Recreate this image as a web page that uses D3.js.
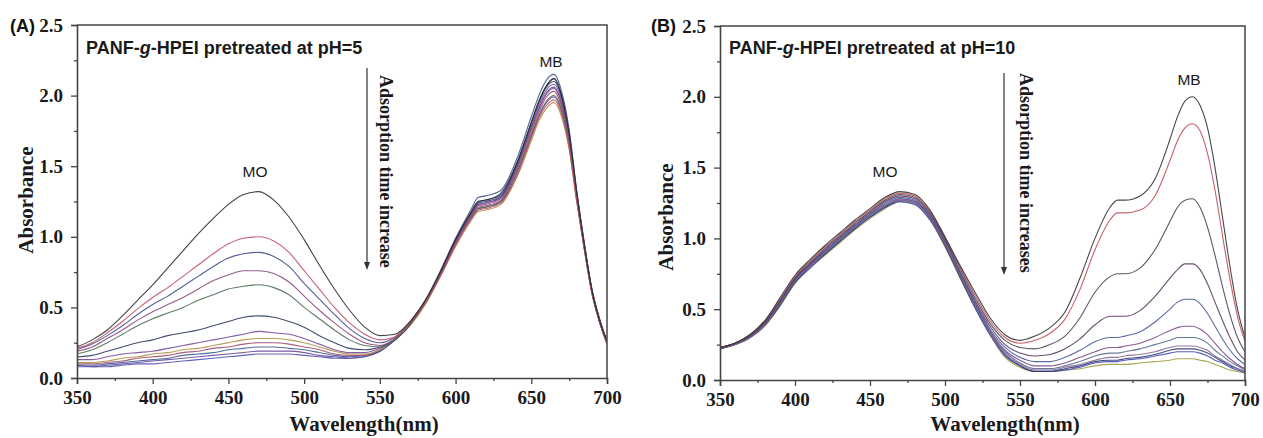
<!DOCTYPE html>
<html><head><meta charset="utf-8">
<script src="https://cdn.jsdelivr.net/npm/d3@7"></script>
<style>
body{margin:0;background:#fff}svg{display:block}
.tick text{font-family:"Liberation Serif","Times New Roman",serif;font-weight:bold;font-size:19px;fill:#1a1a1a}
</style>
</head><body><svg id="c" width="1263" height="438"></svg>
<script>
// ---------- data ----------
const wavelengths = [350,360,370,380,390,400,410,420,430,440,450,460,470,480,490,500,510,520,530,540,550,
  560,570,580,590,600,610,615,620,630,640,650,655,660,665,670,675,680,685,690,695,700];
const xMajor = [350,400,450,500,550,600,650,700];
const xMinor = [375,425,475,525,575,625,675];
const yMajor = [0,0.5,1.0,1.5,2.0,2.5];
const yMinor = [0.25,0.75,1.25,1.75,2.25];

// Panel A (pH=5)
const A1 = [0.22,0.27,0.34,0.44,0.55,0.66,0.78,0.90,1.02,1.13,1.23,1.30,1.32,1.26,1.14,0.98,0.80,0.63,0.48,0.36,0.30,
  0.31,0.40,0.55,0.75,0.98,1.17,1.25,1.26,1.31,1.51,1.81,1.96,2.07,2.12,2.00,1.73,1.31,0.94,0.62,0.41,0.26];
const A2 = [0.21,0.25,0.32,0.40,0.49,0.57,0.64,0.72,0.80,0.88,0.95,0.99,1.00,0.97,0.89,0.76,0.63,0.50,0.39,0.31,0.27,
  0.29,0.39,0.53,0.72,0.94,1.12,1.19,1.20,1.24,1.42,1.70,1.84,1.93,1.97,1.87,1.63,1.25,0.91,0.60,0.40,0.25];
const A3 = [0.20,0.24,0.30,0.37,0.45,0.52,0.58,0.65,0.72,0.79,0.85,0.88,0.89,0.86,0.79,0.67,0.56,0.45,0.35,0.28,0.25,
  0.29,0.40,0.55,0.76,0.99,1.19,1.28,1.29,1.33,1.54,1.85,2.00,2.11,2.15,2.03,1.76,1.33,0.96,0.63,0.42,0.26];
const A4 = [0.19,0.22,0.28,0.34,0.41,0.47,0.52,0.57,0.63,0.69,0.73,0.76,0.76,0.74,0.68,0.58,0.48,0.39,0.31,0.25,0.23,
  0.28,0.39,0.54,0.74,0.96,1.15,1.22,1.23,1.27,1.47,1.76,1.90,2.01,2.05,1.94,1.69,1.29,0.93,0.62,0.41,0.25];
const A5 = [0.17,0.20,0.25,0.31,0.37,0.42,0.46,0.50,0.55,0.59,0.63,0.65,0.66,0.64,0.59,0.50,0.42,0.34,0.27,0.23,0.22,
  0.27,0.38,0.53,0.73,0.95,1.13,1.20,1.21,1.25,1.44,1.72,1.86,1.96,2.00,1.90,1.66,1.27,0.92,0.61,0.40,0.25];
const A6 = [0.15,0.16,0.19,0.22,0.25,0.27,0.30,0.32,0.34,0.37,0.40,0.43,0.44,0.43,0.40,0.36,0.30,0.25,0.21,0.20,0.22,
  0.27,0.38,0.54,0.75,0.97,1.16,1.24,1.25,1.29,1.50,1.80,1.95,2.06,2.10,1.99,1.72,1.31,0.95,0.63,0.42,0.26];
const A7 = [0.13,0.13,0.15,0.17,0.18,0.19,0.21,0.23,0.25,0.27,0.29,0.31,0.33,0.32,0.31,0.28,0.24,0.20,0.18,0.18,0.21,
  0.27,0.38,0.54,0.74,0.97,1.16,1.23,1.24,1.28,1.49,1.78,1.93,2.04,2.08,1.97,1.71,1.30,0.94,0.62,0.41,0.25];
const A8 = [0.11,0.11,0.12,0.14,0.15,0.17,0.18,0.20,0.21,0.23,0.25,0.27,0.28,0.28,0.27,0.25,0.22,0.19,0.17,0.17,0.20,
  0.27,0.37,0.52,0.72,0.93,1.11,1.18,1.19,1.23,1.41,1.68,1.82,1.91,1.95,1.85,1.62,1.25,0.91,0.60,0.40,0.24];
const A9 = [0.10,0.10,0.11,0.12,0.14,0.15,0.16,0.18,0.19,0.21,0.22,0.24,0.25,0.25,0.24,0.22,0.20,0.17,0.16,0.16,0.20,
  0.27,0.38,0.53,0.73,0.96,1.14,1.21,1.22,1.26,1.46,1.74,1.88,1.99,2.03,1.92,1.68,1.28,0.93,0.61,0.40,0.25];
const A10 = [0.09,0.09,0.10,0.11,0.12,0.13,0.14,0.16,0.17,0.18,0.20,0.21,0.22,0.22,0.21,0.20,0.18,0.16,0.15,0.16,0.19,
  0.27,0.38,0.54,0.75,0.98,1.17,1.25,1.26,1.30,1.51,1.81,1.96,2.07,2.12,2.00,1.74,1.32,0.95,0.63,0.42,0.26];
const A11 = [0.09,0.08,0.09,0.10,0.11,0.12,0.13,0.14,0.15,0.16,0.17,0.18,0.19,0.19,0.19,0.18,0.16,0.15,0.14,0.15,0.19,
  0.27,0.38,0.53,0.73,0.95,1.13,1.20,1.21,1.25,1.44,1.71,1.85,1.95,1.99,1.89,1.65,1.27,0.92,0.61,0.40,0.24];
const A12 = [0.08,0.08,0.08,0.09,0.10,0.10,0.11,0.12,0.13,0.14,0.15,0.16,0.17,0.17,0.17,0.16,0.15,0.14,0.14,0.15,0.19,
  0.27,0.38,0.53,0.74,0.97,1.15,1.23,1.24,1.28,1.48,1.77,1.91,2.02,2.06,1.95,1.70,1.30,0.94,0.62,0.41,0.25];

// Panel B (pH=10)
const B1 = [0.23,0.26,0.32,0.42,0.58,0.74,0.85,0.95,1.04,1.13,1.21,1.29,1.33,1.31,1.20,1.01,0.81,0.62,0.44,0.32,0.28,
  0.31,0.37,0.48,0.72,1.00,1.22,1.27,1.27,1.30,1.42,1.70,1.86,1.97,2.00,1.94,1.78,1.50,1.15,0.80,0.50,0.30];
const B2 = [0.23,0.26,0.32,0.42,0.57,0.73,0.84,0.94,1.03,1.12,1.20,1.28,1.32,1.30,1.19,1.01,0.80,0.60,0.42,0.30,0.26,
  0.28,0.33,0.43,0.64,0.92,1.13,1.18,1.18,1.20,1.30,1.55,1.69,1.78,1.81,1.76,1.60,1.34,1.02,0.71,0.45,0.27];
const B3 = [0.23,0.26,0.32,0.41,0.56,0.72,0.83,0.93,1.02,1.11,1.19,1.27,1.31,1.29,1.18,1.00,0.79,0.58,0.40,0.28,0.23,
  0.22,0.25,0.31,0.44,0.62,0.73,0.75,0.75,0.79,0.92,1.12,1.22,1.27,1.28,1.22,1.08,0.88,0.66,0.46,0.30,0.20];
const B4 = [0.23,0.26,0.31,0.41,0.56,0.72,0.82,0.92,1.01,1.10,1.18,1.26,1.30,1.28,1.17,0.99,0.77,0.56,0.38,0.25,0.19,
  0.17,0.18,0.22,0.29,0.39,0.45,0.45,0.45,0.49,0.59,0.72,0.78,0.82,0.82,0.78,0.68,0.55,0.42,0.30,0.20,0.14];
const B5 = [0.23,0.26,0.31,0.40,0.55,0.71,0.82,0.91,1.00,1.09,1.17,1.25,1.29,1.27,1.16,0.98,0.76,0.55,0.36,0.23,0.16,
  0.13,0.13,0.16,0.21,0.27,0.30,0.30,0.31,0.34,0.41,0.50,0.55,0.57,0.57,0.54,0.47,0.38,0.29,0.21,0.15,0.11];
const B6 = [0.22,0.26,0.31,0.40,0.55,0.71,0.81,0.91,1.00,1.09,1.17,1.24,1.28,1.26,1.15,0.97,0.75,0.54,0.35,0.21,0.14,
  0.10,0.10,0.12,0.16,0.20,0.23,0.23,0.24,0.26,0.30,0.35,0.37,0.38,0.38,0.36,0.32,0.26,0.20,0.15,0.11,0.08];
const B7 = [0.22,0.25,0.30,0.40,0.54,0.70,0.81,0.90,0.99,1.08,1.16,1.23,1.28,1.26,1.15,0.96,0.74,0.53,0.34,0.20,0.12,
  0.08,0.08,0.10,0.13,0.17,0.19,0.19,0.20,0.22,0.25,0.28,0.30,0.30,0.30,0.29,0.26,0.21,0.17,0.13,0.10,0.07];
const B8 = [0.22,0.25,0.30,0.39,0.54,0.70,0.80,0.90,0.99,1.08,1.16,1.23,1.27,1.25,1.14,0.96,0.74,0.52,0.33,0.19,0.11,
  0.07,0.07,0.09,0.11,0.14,0.16,0.16,0.17,0.18,0.20,0.23,0.24,0.24,0.24,0.23,0.21,0.17,0.14,0.11,0.08,0.06];
const B9 = [0.22,0.25,0.30,0.39,0.53,0.69,0.80,0.89,0.98,1.07,1.15,1.22,1.27,1.25,1.14,0.95,0.73,0.52,0.33,0.18,0.10,
  0.06,0.06,0.08,0.10,0.13,0.14,0.14,0.15,0.16,0.18,0.21,0.22,0.22,0.22,0.21,0.19,0.16,0.13,0.10,0.08,0.06];
const B10 = [0.22,0.25,0.30,0.39,0.53,0.69,0.79,0.89,0.98,1.07,1.15,1.22,1.26,1.24,1.13,0.95,0.73,0.51,0.32,0.17,0.10,
  0.06,0.06,0.07,0.09,0.12,0.13,0.13,0.14,0.15,0.17,0.19,0.20,0.20,0.20,0.19,0.17,0.14,0.12,0.09,0.07,0.05];
const B11 = [0.22,0.25,0.30,0.38,0.52,0.68,0.79,0.88,0.97,1.06,1.14,1.21,1.26,1.24,1.13,0.94,0.72,0.51,0.32,0.16,0.09,
  0.06,0.06,0.07,0.08,0.10,0.11,0.11,0.11,0.12,0.13,0.14,0.15,0.15,0.15,0.14,0.13,0.11,0.09,0.07,0.06,0.05];

const seriesA = [A1,A2,A3,A4,A5,A6,A7,A8,A9,A10,A11,A12];
const seriesB = [B1,B2,B3,B4,B5,B6,B7,B8,B9,B10,B11];
const colorsA = ['#2e2e2e','#c0506a','#43508a','#8a4a80','#4d6e52','#2c3a62','#7a4a9a','#b39042','#a04a70','#3c5c92','#6a4aa0','#5252b0'];
const colorsB = ['#333333','#c05058','#4a4458','#5a3a60','#4a5aa0','#7a4a8a','#5a6a90','#8a6a9a','#2a3a70','#4a4ab8','#a0a040'];

// ---------- drawing ----------
const svg = d3.select('#c');
svg.append('rect').attr('width',1263).attr('height',438).attr('fill','#fff');
const serif = '"Liberation Serif","Times New Roman",serif';
const sans = '"Liberation Sans",Arial,sans-serif';

function panel(o){
  const x = d3.scaleLinear().domain([350,700]).range([o.x0,o.x1]);
  const y = d3.scaleLinear().domain([0,2.5]).range([o.y0,o.y1]);
  const g = svg.append('g');
  const clipId = 'clip'+o.id;
  svg.append('clipPath').attr('id',clipId).append('rect')
    .attr('x',o.x0).attr('y',o.y1).attr('width',o.x1-o.x0).attr('height',o.y0-o.y1);

  const line = d3.line().x((d,i)=>x(wavelengths[i])).y(d=>y(d)).curve(d3.curveMonotoneX);
  const lg = g.append('g').attr('clip-path',`url(#${clipId})`);
  o.series.slice().reverse().forEach((s,k)=>{
    const i = o.series.length-1-k;
    lg.append('path').attr('d',line(s)).attr('fill','none')
      .attr('stroke',o.colors[i]).attr('stroke-width',1.1).attr('stroke-opacity',0.9);
  });

  // frame top/right
  g.append('path').attr('d',`M${o.x0},${o.y1}H${o.x1}V${o.y0}`).attr('fill','none')
    .attr('stroke','#444').attr('stroke-width',1.5);

  g.append('g').attr('transform',`translate(0,${o.y0})`)
    .call(d3.axisBottom(x).tickValues(xMajor).tickSize(6).tickPadding(7).tickFormat(d3.format('d')));
  g.append('g').attr('transform',`translate(0,${o.y0})`)
    .call(d3.axisBottom(x).tickValues(xMinor).tickSize(3).tickFormat(''))
    .select('.domain').remove();
  g.append('g').attr('transform',`translate(${o.x0},0)`)
    .call(d3.axisLeft(y).tickValues(yMajor).tickSize(6).tickPadding(8).tickFormat(d3.format('.1f')));
  g.append('g').attr('transform',`translate(${o.x0},0)`)
    .call(d3.axisLeft(y).tickValues(yMinor).tickSize(3).tickFormat(''))
    .select('.domain').remove();
  g.selectAll('.domain').attr('stroke','#444').attr('stroke-width',1.6);
  g.selectAll('.tick line').attr('stroke','#444').attr('stroke-width',1.3);
  g.selectAll('.tick text').style('font-family',serif).style('font-weight','bold')
    .style('font-size','19px').style('fill','#1a1a1a');

  // axis titles
  g.append('text').attr('x',o.xtX).attr('y',431).attr('text-anchor','middle')
    .attr('font-family',serif).attr('font-weight','bold').attr('font-size',21).attr('fill','#1a1a1a')
    .text('Wavelength(nm)');
  g.append('text').attr('transform',`translate(${o.ytX},${o.ytY}) rotate(-90)`).attr('text-anchor','middle')
    .attr('font-family',serif).attr('font-weight','bold').attr('font-size',21).attr('fill','#1a1a1a')
    .text('Absorbance');

  // panel letter
  g.append('text').attr('x',o.letterX).attr('y',32).attr('font-family',sans).attr('font-weight','bold')
    .attr('font-size',18).attr('fill','#111').text(o.letter);

  // annotation
  const t = g.append('text').attr('x',o.x0+9).attr('y',54).attr('font-family',sans).attr('font-weight','bold')
    .attr('font-size',18).attr('fill','#1a1a1a');
  t.append('tspan').text('PANF-');
  t.append('tspan').attr('font-style','italic').text('g');
  t.append('tspan').text('-HPEI pretreated at pH='+o.ph);

  // MO / MB labels
  g.append('text').attr('x',o.moX).attr('y',177).attr('text-anchor','middle').attr('font-family',sans)
    .attr('font-size',15.5).attr('fill','#1a1a1a').text('MO');
  g.append('text').attr('x',o.mbX).attr('y',o.mbY).attr('text-anchor','middle').attr('font-family',sans)
    .attr('font-size',15.5).attr('fill','#1a1a1a').text('MB');

  // arrow
  g.append('line').attr('x1',o.arX).attr('x2',o.arX).attr('y1',o.arY0).attr('y2',o.arY1-7)
    .attr('stroke','#333').attr('stroke-width',1.2);
  g.append('path').attr('d',`M${o.arX-3},${o.arY1-8}L${o.arX+3},${o.arY1-8}L${o.arX},${o.arY1}Z`).attr('fill','#333');
  g.append('text').attr('transform',`translate(${o.vtX},${o.vtY}) rotate(90)`)
    .attr('font-family',serif).attr('font-weight','bold').attr('font-size',18).attr('fill','#1a1a1a')
    .text(o.vtext);
}

panel({id:'A',x0:77,x1:607,y0:378,y1:25,series:seriesA,colors:colorsA,xtX:364,ytX:33,ytY:200,
  letter:'(A)',letterX:10,ph:'5',moX:255,mbX:551,mbY:67,arX:367,arY0:68,arY1:270,vtX:380,vtY:75,
  vtext:'Adsorption time increase'});
panel({id:'B',x0:720,x1:1245,y0:380,y1:26,series:seriesB,colors:colorsB,xtX:1005,ytX:673,ytY:217,
  letter:'(B)',letterX:651,ph:'10',moX:885,mbX:1189,mbY:85,arX:1004,arY0:73,arY1:275,vtX:1020,vtY:73,
  vtext:'Adsorption time increases'});
</script></body></html>
